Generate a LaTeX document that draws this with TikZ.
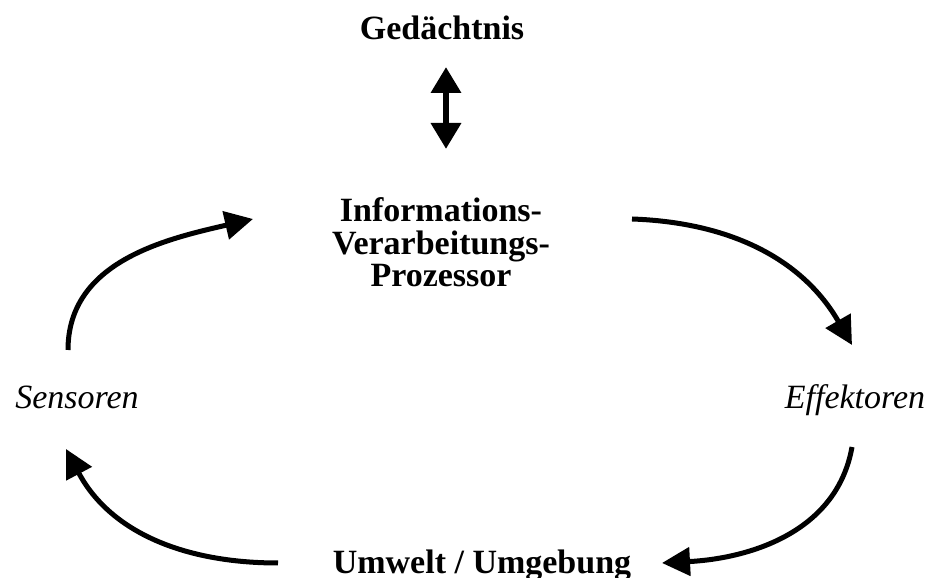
\documentclass[tikz,border=0pt]{standalone}
\usepackage{fontspec}
\setmainfont{Liberation Serif}
\usetikzlibrary{arrows.meta}
\definecolor{ink}{RGB}{0,0,0}
\tikzset{
  blabel/.style={ink,font=\fontsize{34}{32.5}\selectfont\bfseries,inner sep=0pt,anchor=base,align=center},
  ilabel/.style={ink,font=\fontsize{34}{32.5}\selectfont\itshape,inner sep=0pt,anchor=base},
  cycarrow/.style={ink,line width=5pt,-{Triangle[length=28pt,width=28pt]}},
  memarrow/.style={ink,line width=6.5pt,{Triangle[length=26pt,width=29pt]}-{Triangle[length=26pt,width=29pt]}},
}

\begin{document}
\begin{tikzpicture}[x=1pt,y=1pt]
  \useasboundingbox (0,0) rectangle (930,578);
  % labels
  \node[blabel] (ged) at (442,538) {Gedächtnis};
  \node[blabel] (proc) at (441,291) {Informations-\\Verarbeitungs-\\Prozessor};
  \node[ilabel] (sens) at (77,169) {Sensoren};
  \node[ilabel] (eff) at (855,169) {Effektoren};
  \node[blabel] (umw) at (482,4) {Umwelt / Umgebung};
  % memory link
  \coordinate (m1) at (446,511);
  \coordinate (m2) at (446,429);
  \draw[memarrow] (m1) -- (m2);
  % cycle
  \coordinate (s1) at (68,228);
  \coordinate (s2) at (253,359);
  \coordinate (e1) at (632,359);
  \coordinate (e2) at (852,233);
  \coordinate (u1) at (852,131);
  \coordinate (u2) at (662,15);
  \coordinate (w1) at (278,15);
  \coordinate (w2) at (66,129);
  \draw[cycarrow] (s1) to[out=90,in=193] (s2);
  \draw[cycarrow] (e1) to[out=-2,in=120] (e2);
  \draw[cycarrow] (u1) to[out=-100,in=3] (u2);
  \draw[cycarrow] (w1) to[out=180,in=-62] (w2);
\end{tikzpicture}
\end{document}
